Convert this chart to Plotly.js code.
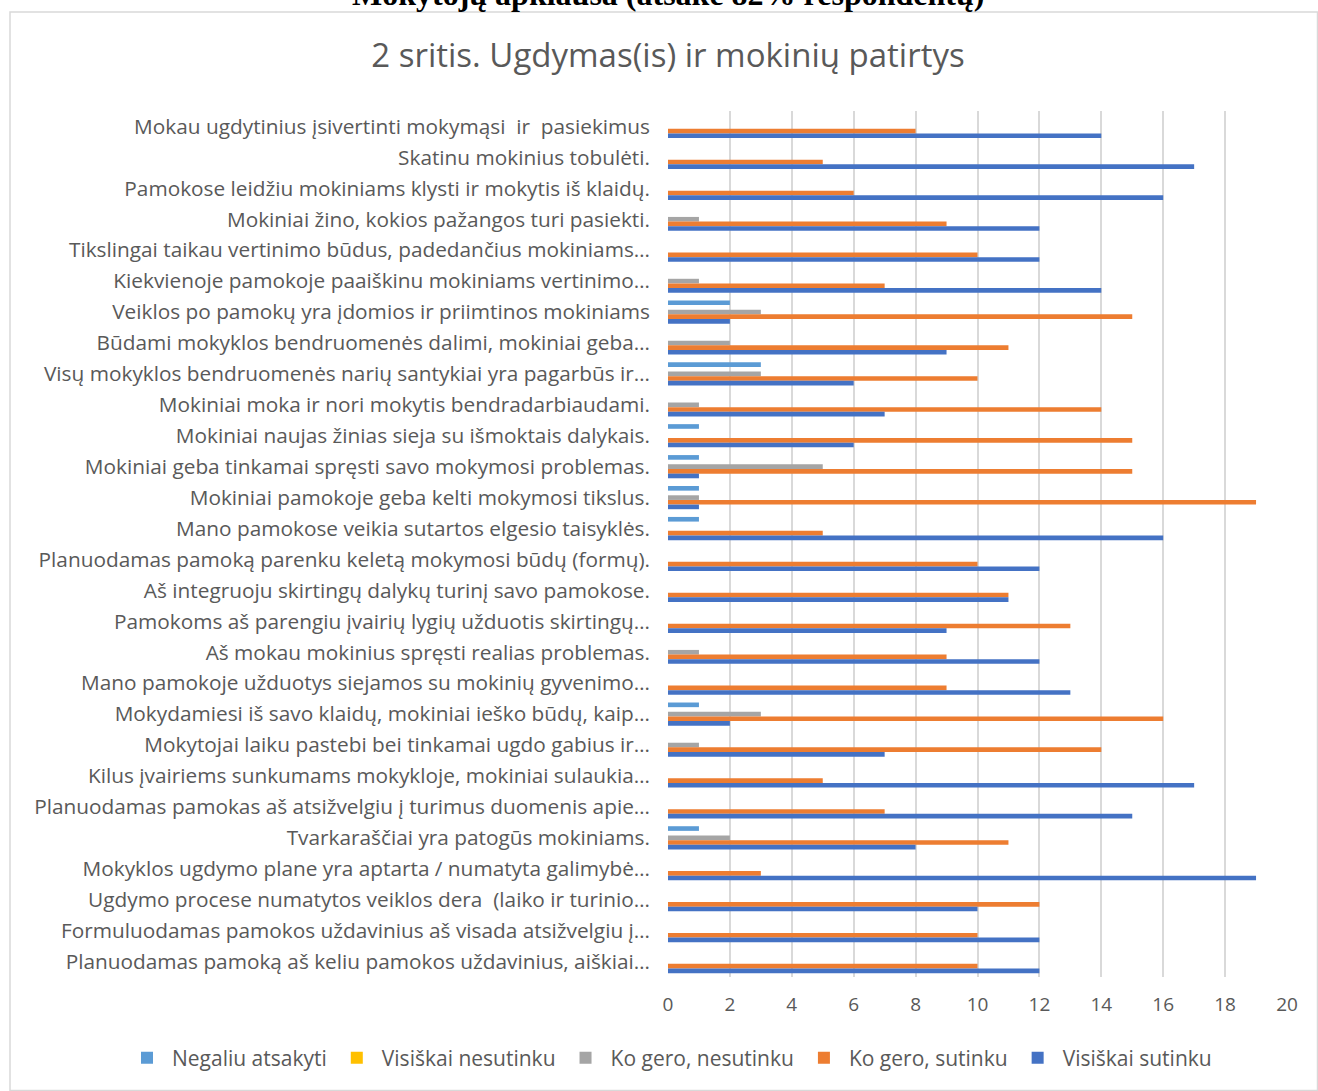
<!DOCTYPE html>
<html>
<head>
<meta charset="utf-8">
<script src="https://cdn.plot.ly/plotly-3.0.1.min.js"></script>
<style>
  html, body { margin: 0; padding: 0; background: #ffffff; }
  #chart { width: 1318px; height: 1091px; }
</style>
</head>
<body>
<div id="chart"></div>
<script>
// ---- DATA (categories listed top to bottom) ----
const categories = [
  "Mokau ugdytinius įsivertinti mokymąsi  ir  pasiekimus",
  "Skatinu mokinius tobulėti.",
  "Pamokose leidžiu mokiniams klysti ir mokytis iš klaidų.",
  "Mokiniai žino, kokios pažangos turi pasiekti.",
  "Tikslingai taikau vertinimo būdus, padedančius mokiniams…",
  "Kiekvienoje pamokoje paaiškinu mokiniams vertinimo…",
  "Veiklos po pamokų yra įdomios ir priimtinos mokiniams",
  "Būdami mokyklos bendruomenės dalimi, mokiniai geba…",
  "Visų mokyklos bendruomenės narių santykiai yra pagarbūs ir…",
  "Mokiniai moka ir nori mokytis bendradarbiaudami.",
  "Mokiniai naujas žinias sieja su išmoktais dalykais.",
  "Mokiniai geba tinkamai spręsti savo mokymosi problemas.",
  "Mokiniai pamokoje geba kelti mokymosi tikslus.",
  "Mano pamokose veikia sutartos elgesio taisyklės.",
  "Planuodamas pamoką parenku keletą mokymosi būdų (formų).",
  "Aš integruoju skirtingų dalykų turinį savo pamokose.",
  "Pamokoms aš parengiu įvairių lygių užduotis skirtingų…",
  "Aš mokau mokinius spręsti realias problemas.",
  "Mano pamokoje užduotys siejamos su mokinių gyvenimo…",
  "Mokydamiesi iš savo klaidų, mokiniai ieško būdų, kaip…",
  "Mokytojai laiku pastebi bei tinkamai ugdo gabius ir…",
  "Kilus įvairiems sunkumams mokykloje, mokiniai sulaukia…",
  "Planuodamas pamokas aš atsižvelgiu į turimus duomenis apie…",
  "Tvarkaraščiai yra patogūs mokiniams.",
  "Mokyklos ugdymo plane yra aptarta / numatyta galimybė…",
  "Ugdymo procese numatytos veiklos dera  (laiko ir turinio…",
  "Formuluodamas pamokos uždavinius aš visada atsižvelgiu į…",
  "Planuodamas pamoką aš keliu pamokos uždavinius, aiškiai…"
];

const seriesNames = ["Negaliu atsakyti", "Visiškai nesutinku", "Ko gero, nesutinku", "Ko gero, sutinku", "Visiškai sutinku"];

const negaliuAtsakyti   = [0,0,0,0,0,0,2,0,3,0,1,1,1,1,0,0,0,0,0,1,0,0,0,1,0,0,0,0];
const visiskaiNesutinku = [0,0,0,0,0,0,0,0,0,0,0,0,0,0,0,0,0,0,0,0,0,0,0,0,0,0,0,0];
const koGeroNesutinku   = [0,0,0,1,0,1,3,2,3,1,0,5,1,0,0,0,0,1,0,3,1,0,0,2,0,0,0,0];
const koGeroSutinku     = [8,5,6,9,10,7,15,11,10,14,15,15,19,5,10,11,13,9,9,16,14,5,7,11,3,12,10,10];
const visiskaiSutinku   = [14,17,16,12,12,14,2,9,6,7,6,1,1,16,12,11,9,12,13,2,7,17,15,8,19,10,12,12];

const xTicks = [0,2,4,6,8,10,12,14,16,18,20];

const chartTitle = "2 sritis. Ugdymas(is) ir mokinių patirtys";
const pageHeading = "Mokytojų apklausa (atsakė 82% respondentų)";

// ---- STYLE ----
const colors = ["#5B9BD5", "#FFC000", "#A5A5A5", "#ED7D31", "#4472C4"];
const seriesValues = [negaliuAtsakyti, visiskaiNesutinku, koGeroNesutinku, koGeroSutinku, visiskaiSutinku];
const FONT = "'Open Sans', Calibri, Carlito, Lato, sans-serif";
const TXT = "#595959";

const W = 1318, H = 1091;
const M = { l: 668, r: 31, t: 111, b: 114 };
const pw = W - M.l - M.r, ph = H - M.t - M.b;
const px2x = p => (p - M.l) / pw;
const py2y = p => (H - M.b - p) / ph;

const traces = seriesNames.map((name, i) => ({
  type: "bar",
  orientation: "h",
  name: name,
  y: categories,
  x: seriesValues[i],
  marker: { color: colors[i], line: { width: 0 } },
  hoverinfo: "x+y+name"
}));

const layout = {
  width: W,
  height: H,
  margin: M,
  paper_bgcolor: "#ffffff",
  plot_bgcolor: "#ffffff",
  font: { family: FONT, color: TXT, size: 19 },
  title: {
    text: chartTitle,
    font: { family: FONT, size: 33, color: TXT },
    x: 668 / W, xref: "container",
    y: 1 - 55 / H, yref: "container", yanchor: "middle", xanchor: "center"
  },
  barmode: "group",
  bargap: 0.25,
  bargroupgap: 0,
  xaxis: {
    range: [0, 20],
    tickvals: xTicks,
    ticktext: xTicks.map(String),
    showgrid: true,
    gridcolor: "#D9D9D9",
    gridwidth: 1.5,
    zeroline: false,
    showline: false,
    ticks: "",
    ticklabelstandoff: 14,
    tickfont: { family: FONT, size: 19, color: TXT },
    fixedrange: true
  },
  yaxis: {
    type: "category",
    categoryorder: "array",
    categoryarray: categories,
    autorange: "reversed",
    showgrid: false,
    zeroline: false,
    showline: false,
    ticks: "",
    ticklabelstandoff: 17,
    tickfont: { family: FONT, size: 20.8, color: TXT },
    fixedrange: true
  },
  legend: {
    orientation: "h",
    x: px2x(122), xref: "paper", xanchor: "left",
    y: py2y(1058), yref: "paper", yanchor: "middle",
    font: { family: FONT, size: 21, color: TXT },
    itemwidth: 40,
    traceorder: "normal",
    itemclick: false
  },
  shapes: [{
    type: "rect", xref: "paper", yref: "paper",
    x0: px2x(10), x1: px2x(1317.5), y0: py2y(1090.5), y1: py2y(12),
    line: { color: "#D9D9D9", width: 1.5 },
    fillcolor: "rgba(0,0,0,0)", layer: "below"
  }],
  annotations: [{
    text: "<b>" + pageHeading + "</b>",
    xref: "paper", yref: "paper",
    x: px2x(668), y: py2y(14),
    xanchor: "center", yanchor: "bottom",
    showarrow: false,
    font: { family: "'Liberation Serif', 'Times New Roman', serif", size: 32, color: "#000000" }
  }],
  showlegend: true
};

Plotly.newPlot("chart", traces, layout, { displayModeBar: false, responsive: false });
</script>
</body>
</html>
